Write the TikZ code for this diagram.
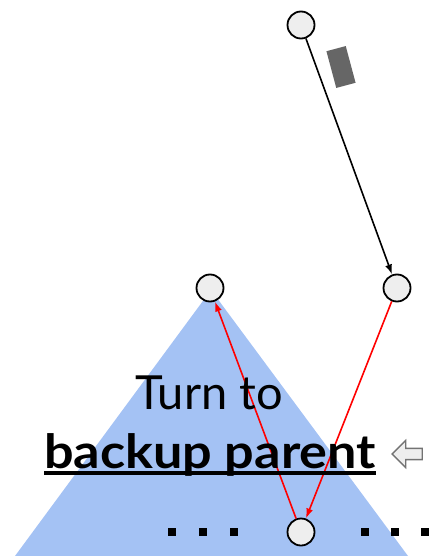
\documentclass[tikz,border=0pt]{standalone}
\usepackage{fontspec}
\setmainfont{Lato}
\usetikzlibrary{arrows.meta,shapes.arrows}
\definecolor{tri}{HTML}{A4C2F4}
\definecolor{nodefill}{HTML}{EEEEEE}
\definecolor{boxgray}{HTML}{666666}
\begin{document}
\begin{tikzpicture}[x=1pt,y=-1pt,
  vert/.style={circle,draw=black,fill=nodefill,line width=1.8pt,minimum size=27pt,inner sep=0pt},
  blk/.style={-{Latex[length=10pt,width=7pt]},line width=1.6pt,black},
  redarr/.style={-{Latex[length=10pt,width=7pt]},line width=1.6pt,red},
  sq/.style={fill=black}]
\useasboundingbox (0,0) rectangle (429,556);
\fill[tri] (211,290) -- (15,556) -- (408,556) -- cycle;
\node[vert] (top) at (301,25) {};
\node[vert] (right) at (397,288) {};
\node[vert] (left) at (210,288) {};
\node[vert] (bot) at (301,532) {};
\fill[boxgray,rotate around={15:(341,67)}] (331,48) rectangle (351,86);
\draw[blk] (top) -- (right);
\draw[redarr] (right) -- (bot.70);
\draw[redarr] (bot.110) -- (left.-70);
\node[font=\fontsize{47}{50}\selectfont,anchor=base] (t1) at (209,409) {Turn to};
\node[font=\fontsize{47}{50}\selectfont\bfseries,anchor=base,inner sep=0pt] (t2) at (210,468) {\scalebox{1.11}[1]{backup parent}};
\draw[line width=4pt] (44,473) -- (376,473);
\foreach \x in {172,203,234,365,395,425}{
  \fill[sq] (\x-4,528) rectangle (\x+4,536);
}
\node[single arrow,draw=gray!90!black,fill=nodefill,line width=1.4pt,shape border rotate=180,
  minimum height=30pt,minimum width=27pt,single arrow head extend=6pt,inner sep=3.5pt] (arr) at (410,454) {};
\end{tikzpicture}
\end{document}
